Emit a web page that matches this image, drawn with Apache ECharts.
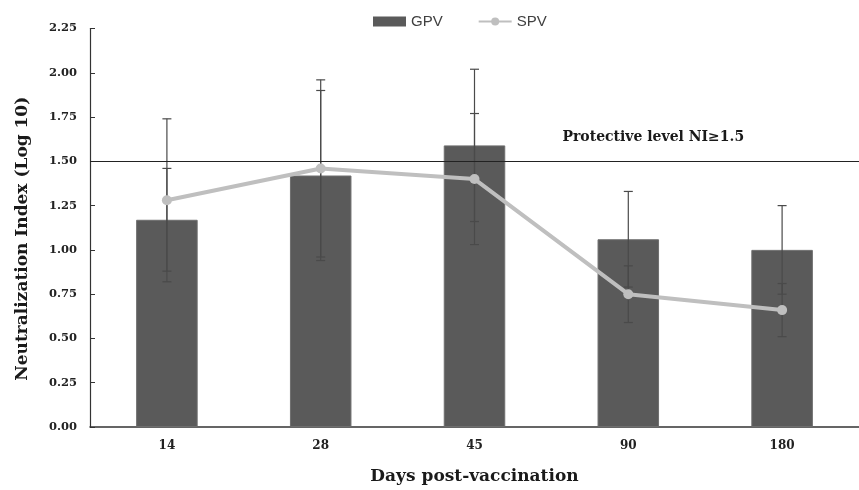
<!DOCTYPE html>
<html>
<head>
<meta charset="utf-8">
<title>Neutralization Index</title>
<script src="https://cdn.jsdelivr.net/npm/echarts@6/dist/echarts.min.js"></script>
<style>
  html, body { margin: 0; padding: 0; background: #fff; }
  #chart-main { width: 859px; height: 490px; }
</style>
</head>
<body>
<div id="chart-main"></div>
<script>
// 横轴：接种后天数
var days = ['14', '28', '45', '90', '180'];
// GPV 柱子 均值 / 标准差
var gpvMean = [1.17, 1.42, 1.59, 1.06, 1.00];
var gpvSd = [0.29, 0.48, 0.43, 0.27, 0.25];
// SPV 折线 均值 / 标准差
var spvMean = [1.28, 1.46, 1.40, 0.75, 0.66];
var spvSd = [0.46, 0.50, 0.37, 0.16, 0.15];
// 纵轴刻度
var yTicks = ['0.00', '0.25', '0.50', '0.75', '1.00', '1.25', '1.50', '1.75', '2.00', '2.25'];
// 保护水平
var protectiveLevel = 1.5;
var protectiveLabel = 'Protective level NI≥1.5';

var serif = '"DejaVu Serif", "Liberation Serif", serif';

// 误差线数据 [类目序号, 下限, 上限]
function buildErr(mean, sd) {
    var out = [];
    for (var i = 0; i < mean.length; i++) {
        out.push([i, mean[i] - sd[i], mean[i] + sd[i]]);
    }
    return out;
}

function renderErr(params, api) {
    var lo = api.coord([api.value(0), api.value(1)]);
    var hi = api.coord([api.value(0), api.value(2)]);
    var half = 4.5;
    var style = { stroke: '#4a4a4a', lineWidth: 1.2 };
    return {
        type: 'group',
        children: [
            { type: 'line', shape: { x1: hi[0], y1: hi[1], x2: lo[0], y2: lo[1] }, style: style },
            { type: 'line', shape: { x1: hi[0] - half, y1: hi[1], x2: hi[0] + half, y2: hi[1] }, style: style },
            { type: 'line', shape: { x1: lo[0] - half, y1: lo[1], x2: lo[0] + half, y2: lo[1] }, style: style }
        ]
    };
}

var myChart = echarts.init(document.getElementById('chart-main'));
var option = {
    animation: false,
    backgroundColor: '#fff',
    legend: {
        left: 368,
        top: 9,
        itemWidth: 33,
        itemHeight: 10,
        itemGap: 35,
        textStyle: { fontFamily: '"Liberation Sans", sans-serif', fontSize: 15, color: '#404040' },
        data: [
            { name: 'GPV', icon: 'rect', itemStyle: { borderWidth: 0 } },
            { name: 'SPV' }
        ]
    },
    grid: {
        left: 90,
        top: 28.5,
        width: 775,
        height: 400
    },
    xAxis: {
        type: 'category',
        data: days,
        name: 'Days post-vaccination',
        nameLocation: 'middle',
        nameGap: 41,
        nameTextStyle: { fontFamily: serif, fontWeight: 'bold', fontSize: 17, color: '#1a1a1a' },
        axisLine: { lineStyle: { color: '#333', width: 1.5 } },
        axisTick: { show: false },
        axisLabel: { margin: 13, fontFamily: serif, fontWeight: 'bold', fontSize: 12, color: '#222' }
    },
    yAxis: {
        type: 'value',
        min: 0,
        max: 2.25,
        interval: 0.25,
        name: 'Neutralization Index (Log 10)',
        nameLocation: 'middle',
        nameGap: 59,
        nameTextStyle: {
            fontFamily: serif,
            fontWeight: 'bold',
            fontSize: 17,
            color: '#1a1a1a',
            padding: [0, 22, 0, 0]
        },
        axisLine: { show: true, lineStyle: { color: '#333', width: 1.2 } },
        axisTick: { show: true, inside: true, length: 5, lineStyle: { color: '#333' } },
        splitLine: { show: false },
        axisLabel: {
            margin: 13,
            fontFamily: serif,
            fontWeight: 'bold',
            fontSize: 11.5,
            color: '#222',
            formatter: function (v) { return yTicks[Math.round(v / 0.25)]; }
        }
    },
    series: [
        {
            name: 'GPV',
            type: 'bar',
            data: gpvMean,
            barWidth: '40%',
            z: 2,
            itemStyle: { color: '#5a5a5a', borderColor: '#6e6e6e', borderWidth: 1 },
            markLine: {
                silent: true,
                symbol: 'none',
                label: { show: false },
                lineStyle: { color: '#222', width: 1.2, type: 'solid' },
                data: [{ yAxis: protectiveLevel }]
            },
            markPoint: {
                silent: true,
                symbol: 'circle',
                symbolSize: 0,
                label: {
                    show: true,
                    offset: [25, -24],
                    fontFamily: serif,
                    fontWeight: 'bold',
                    fontSize: 14,
                    color: '#1a1a1a',
                    formatter: protectiveLabel
                },
                data: [{ coord: ['90', protectiveLevel] }]
            }
        },
        {
            name: 'GPV err',
            type: 'custom',
            renderItem: renderErr,
            data: buildErr(gpvMean, gpvSd),
            encode: { x: 0, y: [1, 2] },
            z: 3
        },
        {
            name: 'SPV err',
            type: 'custom',
            renderItem: renderErr,
            data: buildErr(spvMean, spvSd),
            encode: { x: 0, y: [1, 2] },
            z: 3
        },
        {
            name: 'SPV',
            type: 'line',
            data: spvMean,
            z: 4,
            symbol: 'circle',
            symbolSize: 10,
            lineStyle: { color: '#bfbfbf', width: 4 },
            itemStyle: { color: '#bfbfbf' }
        }
    ]
};
myChart.setOption(option);
</script>
</body>
</html>
